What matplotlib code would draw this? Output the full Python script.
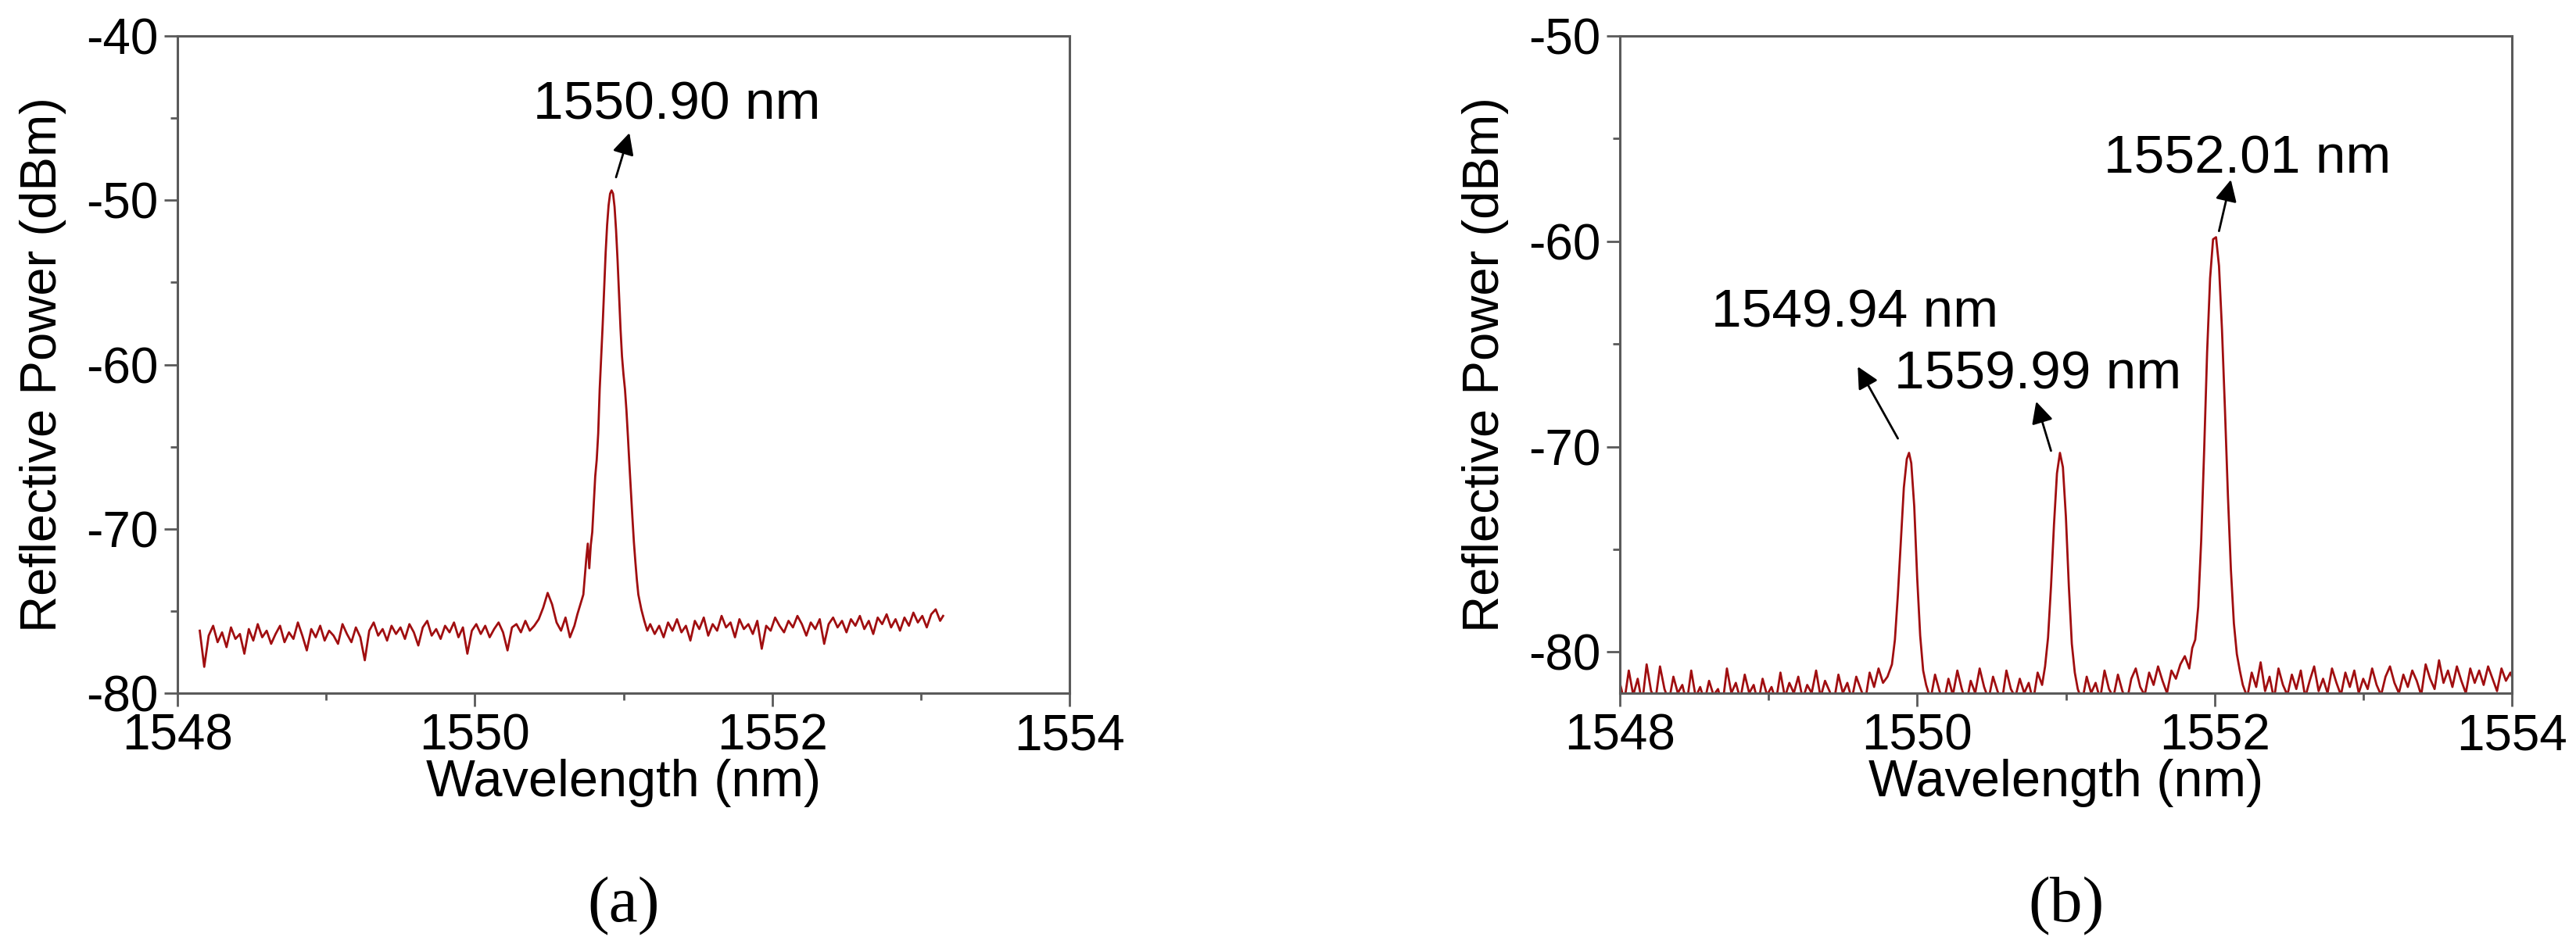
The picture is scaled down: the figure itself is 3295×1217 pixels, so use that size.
import numpy as np
import matplotlib
matplotlib.use("Agg")
import matplotlib.pyplot as plt

plt.rcParams['font.family'] = ['Liberation Sans', 'DejaVu Sans']
plt.rcParams['axes.unicode_minus'] = False

# (a) single FBG reflection spectrum
wl_a = [1548.15, 1548.18, 1548.21, 1548.24, 1548.27, 1548.30, 1548.33, 1548.36, 1548.39, 1548.42,
        1548.45, 1548.48, 1548.51, 1548.54, 1548.57, 1548.60, 1548.63, 1548.66, 1548.69, 1548.72,
        1548.75, 1548.78, 1548.81, 1548.84, 1548.87, 1548.90, 1548.93, 1548.96, 1548.99, 1549.02,
        1549.05, 1549.08, 1549.11, 1549.14, 1549.17, 1549.20, 1549.23, 1549.26, 1549.29, 1549.32,
        1549.35, 1549.38, 1549.41, 1549.44, 1549.47, 1549.50, 1549.53, 1549.56, 1549.59, 1549.62,
        1549.65, 1549.68, 1549.71, 1549.74, 1549.77, 1549.80, 1549.83, 1549.86, 1549.89, 1549.92,
        1549.95, 1549.98, 1550.01, 1550.04, 1550.07, 1550.10, 1550.13, 1550.16, 1550.19, 1550.22,
        1550.25, 1550.28, 1550.31, 1550.34, 1550.37, 1550.40, 1550.43, 1550.46, 1550.49, 1550.52,
        1550.55, 1550.58, 1550.61, 1550.64, 1550.67,
        1550.69, 1550.71, 1550.73, 1550.75, 1550.76, 1550.77, 1550.78, 1550.79, 1550.80, 1550.81,
        1550.82, 1550.83, 1550.84, 1550.85, 1550.86, 1550.87, 1550.88, 1550.89, 1550.90, 1550.91,
        1550.92, 1550.93, 1550.94, 1550.95, 1550.96, 1550.97, 1550.98, 1550.99, 1551.00, 1551.01,
        1551.02, 1551.03, 1551.04, 1551.05, 1551.06, 1551.07, 1551.08, 1551.09, 1551.10, 1551.12,
        1551.14, 1551.16, 1551.18,
        1551.21, 1551.24, 1551.27, 1551.30, 1551.33, 1551.36, 1551.39, 1551.42, 1551.45, 1551.48,
        1551.51, 1551.54, 1551.57, 1551.60, 1551.63, 1551.66, 1551.69, 1551.72, 1551.75, 1551.78,
        1551.81, 1551.84, 1551.87, 1551.90, 1551.93, 1551.96, 1551.99, 1552.02, 1552.05, 1552.08,
        1552.11, 1552.14, 1552.17, 1552.20, 1552.23, 1552.26, 1552.29, 1552.32, 1552.35, 1552.38,
        1552.41, 1552.44, 1552.47, 1552.50, 1552.53, 1552.56, 1552.59, 1552.62, 1552.65, 1552.68,
        1552.71, 1552.74, 1552.77, 1552.80, 1552.83, 1552.86, 1552.89, 1552.92, 1552.95, 1552.98,
        1553.01, 1553.04, 1553.07, 1553.10, 1553.13, 1553.15]
pw_a = [-76.2, -78.4, -76.5, -75.9, -76.9, -76.3, -77.2, -76.0, -76.7, -76.4,
        -77.6, -76.1, -76.8, -75.8, -76.6, -76.2, -77.0, -76.4, -75.9, -76.9,
        -76.3, -76.7, -75.7, -76.5, -77.4, -76.1, -76.6, -75.9, -76.8, -76.2,
        -76.5, -77.0, -75.8, -76.4, -76.9, -76.0, -76.6, -78.0, -76.2, -75.7,
        -76.5, -76.1, -76.8, -75.9, -76.4, -76.0, -76.7, -75.8, -76.3, -77.1,
        -76.0, -75.6, -76.5, -76.1, -76.7, -75.9, -76.3, -75.7, -76.6, -76.0,
        -77.6, -76.2, -75.8, -76.4, -75.9, -76.6, -76.1, -75.7, -76.3, -77.4,
        -76.0, -75.8, -76.3, -75.6, -76.2, -75.9, -75.5, -74.8, -73.9, -74.6,
        -75.7, -76.2, -75.4, -76.6, -75.9,
        -75.2, -74.6, -74.0, -71.8, -70.9, -72.4, -71.0, -70.2, -68.5, -66.8,
        -65.8, -64.2, -61.5, -59.6, -57.6, -55.4, -53.2, -51.5, -50.3, -49.6,
        -49.4, -49.6, -50.4, -51.8, -53.6, -55.7, -57.8, -59.5, -60.6, -61.5,
        -62.8, -64.4, -66.1, -67.7, -69.3, -70.8, -72.0, -73.1, -74.0, -74.9,
        -75.6, -76.2, -75.8,
        -76.4, -75.9, -76.6, -75.7, -76.2, -75.5, -76.3, -75.9, -76.8, -75.6,
        -76.1, -75.4, -76.5, -75.8, -76.2, -75.3, -76.0, -75.7, -76.6, -75.5,
        -76.1, -75.8, -76.4, -75.6, -77.3, -75.9, -76.2, -75.4, -75.9, -76.3,
        -75.6, -76.0, -75.3, -75.8, -76.5, -75.7, -76.1, -75.5, -77.0, -75.8,
        -75.4, -76.0, -75.6, -76.3, -75.5, -75.9, -75.3, -76.1, -75.6, -76.4,
        -75.4, -75.8, -75.2, -76.0, -75.5, -76.2, -75.4, -75.9, -75.1, -75.7,
        -75.3, -76.0, -75.2, -74.9, -75.6, -75.3]

# (b) three cascaded FBGs
wl_b = [1548.00, 1548.03, 1548.06, 1548.09, 1548.12, 1548.15, 1548.18, 1548.21, 1548.24, 1548.27,
        1548.30, 1548.33, 1548.36, 1548.39, 1548.42, 1548.45, 1548.48, 1548.51, 1548.54, 1548.57,
        1548.60, 1548.63, 1548.66, 1548.69, 1548.72, 1548.75, 1548.78, 1548.81, 1548.84, 1548.87,
        1548.90, 1548.93, 1548.96, 1548.99, 1549.02, 1549.05, 1549.08, 1549.11, 1549.14, 1549.17,
        1549.20, 1549.23, 1549.26, 1549.29, 1549.32, 1549.35, 1549.38, 1549.41, 1549.44, 1549.47,
        1549.50, 1549.53, 1549.56, 1549.59, 1549.62, 1549.65, 1549.68, 1549.71, 1549.74, 1549.77,
        1549.80,
        1549.83, 1549.85, 1549.87, 1549.89, 1549.91, 1549.93, 1549.945, 1549.96, 1549.98, 1550.00,
        1550.02, 1550.04, 1550.06,
        1550.09, 1550.12, 1550.15, 1550.18, 1550.21, 1550.24, 1550.27, 1550.30, 1550.33, 1550.36,
        1550.39, 1550.42, 1550.45, 1550.48, 1550.51, 1550.54, 1550.57, 1550.60, 1550.63, 1550.66,
        1550.69, 1550.72, 1550.75, 1550.78, 1550.81, 1550.84,
        1550.86, 1550.88, 1550.90, 1550.92, 1550.94, 1550.96, 1550.98, 1551.00, 1551.02, 1551.04,
        1551.06, 1551.08,
        1551.11, 1551.14, 1551.17, 1551.20, 1551.23, 1551.26, 1551.29, 1551.32, 1551.35, 1551.38,
        1551.41, 1551.44, 1551.47, 1551.50, 1551.53, 1551.56, 1551.59, 1551.62, 1551.65, 1551.68,
        1551.71, 1551.74, 1551.77,
        1551.80, 1551.83, 1551.85, 1551.87, 1551.89, 1551.91, 1551.93, 1551.95, 1551.97, 1551.99,
        1552.01, 1552.03, 1552.05, 1552.07, 1552.09, 1552.11, 1552.13, 1552.15, 1552.17, 1552.19,
        1552.22, 1552.25, 1552.28, 1552.31, 1552.34, 1552.37, 1552.40, 1552.43, 1552.46, 1552.49,
        1552.52, 1552.55, 1552.58, 1552.61, 1552.64, 1552.67, 1552.70, 1552.73, 1552.76, 1552.79,
        1552.82, 1552.85, 1552.88, 1552.91, 1552.94, 1552.97, 1553.00, 1553.03, 1553.06, 1553.09,
        1553.12, 1553.15, 1553.18, 1553.21, 1553.24, 1553.27, 1553.30, 1553.33, 1553.36, 1553.39,
        1553.42, 1553.45, 1553.48, 1553.51, 1553.54, 1553.57, 1553.60, 1553.63, 1553.66, 1553.69,
        1553.72, 1553.75, 1553.78, 1553.81, 1553.84, 1553.87, 1553.90, 1553.93, 1553.96, 1553.99,
        1554.00]
pw_b = [-81.5, -82.4, -80.9, -82.1, -81.3, -82.5, -80.6, -81.9, -82.3, -80.7,
        -81.8, -82.4, -81.2, -82.0, -81.6, -82.5, -80.9, -82.2, -81.7, -82.4,
        -81.4, -82.1, -81.8, -82.6, -80.8, -82.0, -81.5, -82.3, -81.1, -82.0,
        -81.6, -82.5, -81.3, -82.1, -81.7, -82.4, -81.0, -82.2, -81.5, -82.0,
        -81.2, -82.3, -81.6, -82.0, -80.9, -82.2, -81.4, -81.9, -82.4, -81.1,
        -82.0, -81.5, -82.3, -81.2, -81.8, -82.4, -81.0, -81.7, -80.8, -81.5,
        -81.2,
        -80.6, -79.4, -77.2, -74.6, -72.0, -70.6, -70.3, -70.8, -72.9, -76.4,
        -79.2, -80.9, -81.6,
        -82.3, -81.1, -81.9, -82.4, -81.3, -82.1, -80.9, -81.8, -82.5, -81.4,
        -82.0, -80.8, -81.7, -82.3, -81.2, -81.9, -82.4, -80.9, -81.8, -82.2,
        -81.3, -82.0, -81.5, -82.4, -81.0, -81.6,
        -80.7, -79.3, -76.8, -73.8, -71.3, -70.3, -71.0, -73.4, -76.8, -79.6,
        -81.0, -81.8,
        -82.4, -81.2, -82.0, -81.5, -82.3, -80.9, -81.8, -82.2, -81.1, -81.9,
        -82.4, -81.3, -80.8, -81.7, -82.1, -81.0, -81.6, -80.7, -81.4, -82.0,
        -80.9, -81.3, -80.6,
        -80.2, -80.8, -79.8, -79.4, -77.8, -74.6, -70.2, -65.4, -61.8, -59.9,
        -59.8, -61.2, -64.3, -68.2, -72.4, -76.0, -78.6, -80.1, -80.9, -81.6,
        -82.2, -81.0, -81.7, -80.5, -81.9, -81.2, -82.3, -80.8, -81.6, -82.1,
        -81.1, -81.8, -80.9, -82.2, -81.4, -80.7, -81.9, -81.3, -82.0, -80.8,
        -81.5, -82.1, -81.0, -81.7, -80.9, -82.0, -81.3, -81.8, -80.8, -81.6,
        -82.1, -81.2, -80.7, -81.5, -82.0, -81.1, -81.7, -80.9, -81.4, -82.1,
        -80.6, -81.3, -81.8, -80.4, -81.5, -80.9, -81.7, -80.7, -81.4, -82.0,
        -80.8, -81.5, -80.9, -81.6, -80.7, -81.3, -81.9, -80.8, -81.4, -81.0,
        -81.2]

# annotations: label, text position, arrow tail, arrow head
notes_a = [("1550.90 nm", (1551.36, -44.2), (1550.95, -48.6), (1551.04, -45.9))]
notes_b = [("1549.94 nm", (1549.58, -63.5), (1549.87, -69.6), (1549.60, -66.1)),
           ("1559.99 nm", (1550.81, -66.5), (1550.90, -70.2), (1550.80, -67.8)),
           ("1552.01 nm", (1552.22, -56.0), (1552.03, -59.5), (1552.11, -57.0))]

line_color = '#a00e10'
spine_color = '#5a5a5a'

fig = plt.figure(figsize=(32.95, 12.17), dpi=100)
ax_a = fig.add_axes([227/3295, 1-887/1217, 1141/3295, 841/1217])
ax_b = fig.add_axes([2072/3295, 1-887/1217, 1141/3295, 841/1217])


def style(ax, ylim, ymajor, yminor):
    ax.set_xlim(1548, 1554)
    ax.set_ylim(*ylim)
    ax.set_xticks([1548, 1550, 1552, 1554])
    ax.set_xticks([1549, 1551, 1553], minor=True)
    ax.set_yticks(ymajor)
    ax.set_yticks(yminor, minor=True)
    for s in ax.spines.values():
        s.set_color(spine_color)
        s.set_linewidth(2.2)
    ax.tick_params(which='both', direction='out', color=spine_color, width=2,
                   top=False, right=False)
    ax.tick_params(which='major', length=12, labelsize=46, pad=6)
    ax.tick_params(which='minor', length=6.5)
    ax.set_xlabel('Wavelength (nm)', fontsize=48, labelpad=-1)
    ax.set_ylabel('Reflective Power (dBm)', fontsize=47, labelpad=18)


ax_a.plot(wl_a, pw_a, color=line_color, lw=2.0)
style(ax_a, (-80, -40), [-80, -70, -60, -50, -40], [-75, -65, -55, -45])

ax_b.plot(wl_b, pw_b, color=line_color, lw=2.0)
style(ax_b, (-82, -50), [-80, -70, -60, -50], [-75, -65, -55])

for ax, notes in ((ax_a, notes_a), (ax_b, notes_b)):
    for label, txt, tail, head in notes:
        ax.text(txt[0], txt[1], label, fontsize=50, ha='center', va='center')
        ax.annotate('', xy=head, xytext=tail,
                    arrowprops=dict(arrowstyle='-|>', color='black', lw=2,
                                    mutation_scale=42, shrinkA=0, shrinkB=0))

fig.text((227 + 1141/2)/3295, 1 - 1160/1217, '(a)', fontsize=60,
         family='Liberation Serif', ha='center', va='center')
fig.text((2072 + 1141/2)/3295, 1 - 1160/1217, '(b)', fontsize=60,
         family='Liberation Serif', ha='center', va='center')

fig.savefig('out.png', dpi=100)
